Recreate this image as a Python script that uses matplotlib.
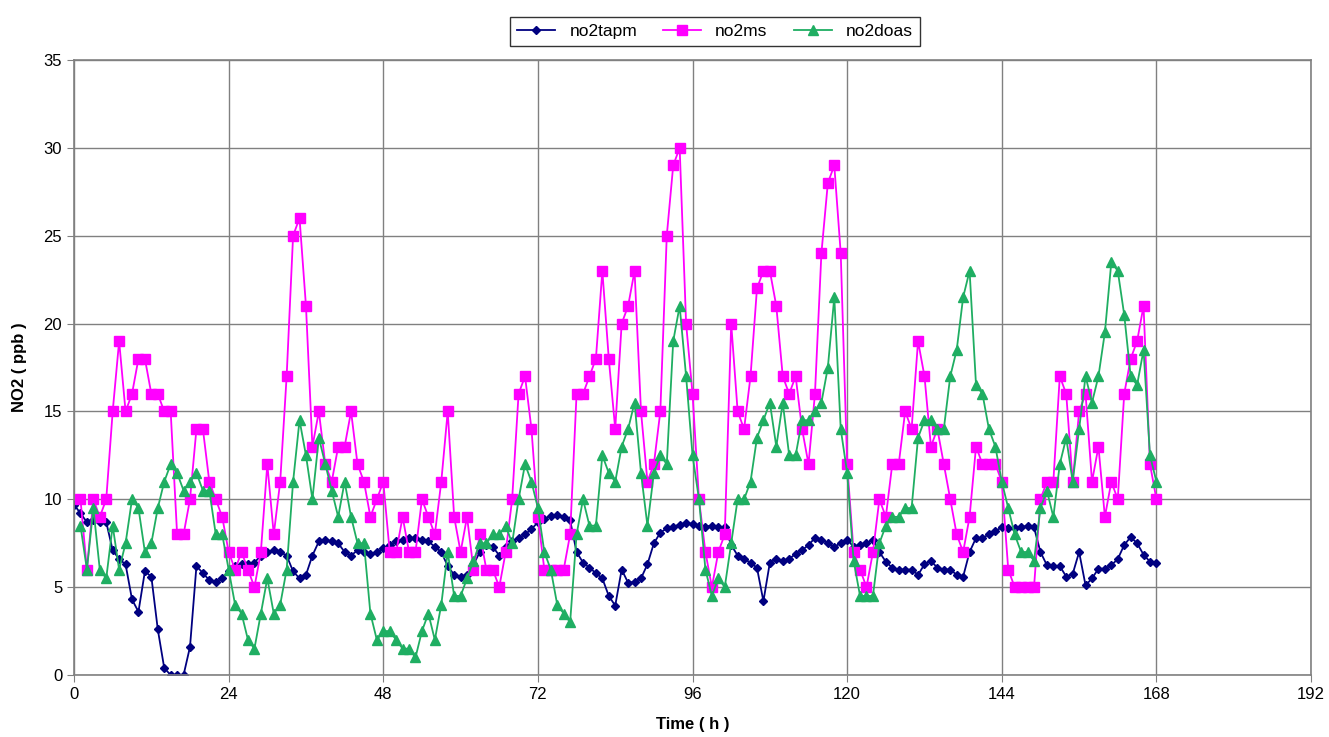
import matplotlib.pyplot as plt
import numpy as np

plt.rcParams['font.family'] = ['Liberation Sans', 'DejaVu Sans']

# hourly NO2 (ppb)
hoursTapm = np.arange(0, 169)
no2tapm = [9.7, 9.2, 8.7, 8.8, 8.7, 8.7, 7.1, 6.6, 6.3, 4.3,
           3.6, 5.9, 5.6, 2.6, 0.4, 0.0, 0.0, 0.0, 1.6, 6.2,
           5.8, 5.4, 5.3, 5.5, 5.9, 6.2, 6.3, 6.3, 6.4, 6.8,
           7.0, 7.1, 7.0, 6.8, 5.9, 5.5, 5.7, 6.8, 7.6, 7.7,
           7.6, 7.5, 7.0, 6.8, 7.1, 7.0, 6.9, 7.0, 7.2, 7.4,
           7.6, 7.7, 7.8, 7.8, 7.7, 7.6, 7.3, 7.0, 6.2, 5.7,
           5.6, 5.7, 6.3, 7.0, 7.4, 7.3, 6.8, 7.3, 7.6, 7.8,
           8.0, 8.3, 8.7, 8.9, 9.05, 9.1, 9.0, 8.8, 7.0, 6.4,
           6.1, 5.8, 5.5, 4.5, 3.95, 6.0, 5.25, 5.3, 5.5, 6.3,
           7.5, 8.1, 8.35, 8.45, 8.55, 8.65, 8.6, 8.5, 8.45, 8.5,
           8.45, 8.4, 7.4, 6.8, 6.6, 6.4, 6.1, 4.2, 6.4, 6.6,
           6.5, 6.6, 6.9, 7.1, 7.4, 7.8, 7.7, 7.5, 7.3, 7.5,
           7.7, 7.3, 7.4, 7.5, 7.7, 7.0, 6.45, 6.1, 6.0, 6.0,
           6.0, 5.7, 6.3, 6.5, 6.1, 6.0, 6.0, 5.7, 5.6, 7.0,
           7.8, 7.8, 8.0, 8.2, 8.4, 8.35, 8.35, 8.4, 8.5, 8.4,
           7.0, 6.25, 6.2, 6.2, 5.6, 5.75, 7.0, 5.1, 5.5, 6.05,
           6.05, 6.25, 6.6, 7.4, 7.85, 7.5, 6.85, 6.45, 6.35]

hours = np.arange(1, 169)
no2ms = [10, 6, 10, 9, 10, 15, 19, 15, 16, 18,
         18, 16, 16, 15, 15, 8, 8, 10, 14, 14,
         11, 10, 9, 7, 6, 7, 6, 5, 7, 12,
         8, 11, 17, 25, 26, 21, 13, 15, 12, 11,
         13, 13, 15, 12, 11, 9, 10, 11, 7, 7,
         9, 7, 7, 10, 9, 8, 11, 15, 9, 7,
         9, 6, 8, 6, 6, 5, 7, 10, 16, 17,
         14, 9, 6, 6, 6, 6, 8, 16, 16, 17,
         18, 23, 18, 14, 20, 21, 23, 15, 11, 12,
         15, 25, 29, 30, 20, 16, 10, 7, 5, 7,
         8, 20, 15, 14, 17, 22, 23, 23, 21, 17,
         16, 17, 14, 12, 16, 24, 28, 29, 24, 12,
         7, 6, 5, 7, 10, 9, 12, 12, 15, 14,
         19, 17, 13, 14, 12, 10, 8, 7, 9, 13,
         12, 12, 12, 11, 6, 5, 5, 5, 5, 10,
         11, 11, 17, 16, 11, 15, 16, 11, 13, 9,
         11, 10, 16, 18, 19, 21, 12, 10]

no2doas = [8.5, 6, 9.5, 6, 5.5, 8.5, 6, 7.5, 10, 9.5,
           7, 7.5, 9.5, 11, 12, 11.5, 10.5, 11, 11.5, 10.5,
           10.5, 8, 8, 6, 4, 3.5, 2, 1.5, 3.5, 5.5,
           3.5, 4, 6, 11, 14.5, 12.5, 10, 13.5, 12, 10.5,
           9, 11, 9, 7.5, 7.5, 3.5, 2, 2.5, 2.5, 2,
           1.5, 1.5, 1, 2.5, 3.5, 2, 4, 7, 4.5, 4.5,
           5.5, 6.5, 7.5, 7.5, 8, 8, 8.5, 7.5, 10, 12,
           11, 9.5, 7, 6, 4, 3.5, 3, 8, 10, 8.5,
           8.5, 12.5, 11.5, 11, 13, 14, 15.5, 11.5, 8.5, 11.5,
           12.5, 12, 19, 21, 17, 12.5, 10, 6, 4.5, 5.5,
           5, 7.5, 10, 10, 11, 13.5, 14.5, 15.5, 13, 15.5,
           12.5, 12.5, 14.5, 14.5, 15, 15.5, 17.5, 21.5, 14, 11.5,
           6.5, 4.5, 4.5, 4.5, 7.5, 8.5, 9, 9, 9.5, 9.5,
           13.5, 14.5, 14.5, 14, 14, 17, 18.5, 21.5, 23, 16.5,
           16, 14, 13, 11, 9.5, 8, 7, 7, 6.5, 9.5,
           10.5, 9, 12, 13.5, 11, 14, 17, 15.5, 17, 19.5,
           23.5, 23, 20.5, 17, 16.5, 18.5, 12.5, 11]

fig = plt.figure(figsize=(13.29, 7.37), dpi=100)
ax = fig.add_axes([0.0557, 0.0841, 0.9308, 0.8345])

ax.plot(hoursTapm, no2tapm, color='#000080', marker='D', markersize=4.5,
        linewidth=1.3, label='no2tapm')
ax.plot(hours, no2ms, color='#ff00ff', marker='s', markersize=6.5,
        linewidth=1.3, label='no2ms')
ax.plot(hours, no2doas, color='#1fae62', marker='^', markersize=6.5,
        linewidth=1.3, label='no2doas')

ax.set_xlim(0, 192)
ax.set_ylim(0, 35)
ax.set_xticks(np.arange(0, 193, 24))
ax.set_yticks(np.arange(0, 36, 5))
ax.grid(True, color='#808080', linewidth=1.0)
ax.set_axisbelow(True)
for s in ax.spines.values():
    s.set_color('#808080')
    s.set_linewidth(1.2)
ax.tick_params(direction='out', length=5, color='#808080', labelsize=12)

ax.set_xlabel('Time ( h )', fontsize=12, fontweight='bold', labelpad=11)
ax.set_ylabel('NO2 ( ppb )', fontsize=12, fontweight='bold', labelpad=12)

leg = fig.legend(loc='center', bbox_to_anchor=(0.538, 0.957), ncol=3,
                 fontsize=12.5, frameon=True, fancybox=False, handlelength=2.2,
                 columnspacing=1.5, borderpad=0.4)
leg.get_frame().set_edgecolor('#000000')
leg.get_frame().set_linewidth(1.0)

fig.savefig('out.png')
